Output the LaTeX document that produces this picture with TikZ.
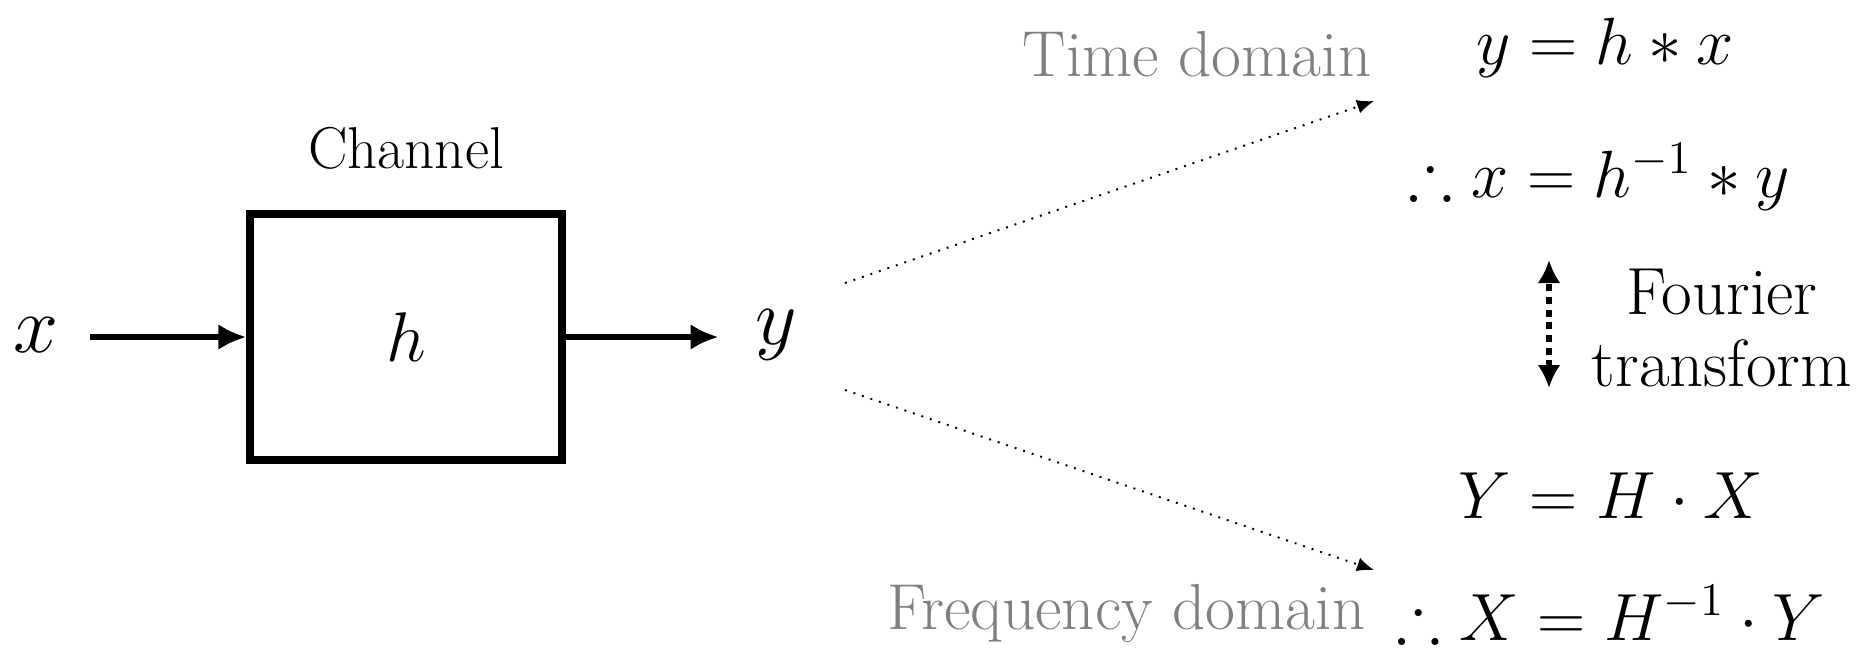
\RequirePackage{fix-cm}
\documentclass[tikz,border=0pt]{standalone}
\usepackage{amsmath,amssymb}
\usetikzlibrary{arrows.meta,positioning}
\definecolor{ink}{HTML}{000000}
\definecolor{grey}{HTML}{808080}

\begin{document}
\begin{tikzpicture}[
  x=0.1mm, y=-0.1mm, >=Latex,
  sig/.style={inner sep=0pt, text=ink, font=\fontsize{23}{27}\selectfont},
  eqn/.style={inner sep=0pt, text=ink, font=\fontsize{19}{23}\selectfont},
  dom/.style={inner sep=0pt, text=grey, anchor=east, font=\fontsize{18.5}{22}\selectfont},
  lbl/.style={inner sep=0pt, text=ink, align=center, font=\fontsize{19}{20.5}\selectfont},
  blk/.style={draw=ink, line width=2.1pt, minimum width=31.2mm, minimum height=24.6mm, font=\fontsize{20}{24}\selectfont},
  arr/.style={-{Latex[length=2.8mm,width=2.6mm]}, draw=ink, line width=1.9pt},
  dotarr/.style={-{Latex[length=1.7mm,width=1.4mm]}, draw=ink, dotted, line width=0.55pt},
  ftarr/.style={{Latex[length=2.3mm,width=2.3mm]}-{Latex[length=2.3mm,width=2.3mm]}, draw=ink, line width=1.8pt, dash pattern=on 2pt off 1.6pt}]
\useasboundingbox (0,0) rectangle (1871,651);

% channel block
\node[sig] (xin) at (36,335) {$x$};
\node[blk] (box) at (406,337) {$h$};
\node[lbl, font=\fontsize{16.8}{19}\selectfont, above=4mm of box] (chan) {Channel};
\node[sig] (yout) at (776,335) {$y$};
\draw[arr, shorten <=3.1mm] (xin.east |- box.west) -- (box.west);
\draw[arr, shorten >=3.6mm] (box.east) -- (yout.west |- box.east);

% time / frequency domain
\coordinate (tstart) at (845,283);
\coordinate (tend) at (1374,101);
\coordinate (fstart) at (845,390);
\coordinate (fend) at (1374,570);
\node[dom] (tdom) at (1372,54) {Time domain};
\node[dom] (fdom) at (1366,614) {Frequency domain};
\node[eqn] (eqt1) at (1605,48) {$y = h * x$};
\node[eqn] (eqt2) at (1599,177) {$\therefore x = h^{-1} * y$};
\node[eqn] (eqf1) at (1611,496) {$Y = H \cdot X$};
\node[eqn] (eqf2) at (1611,613) {$\therefore X = H^{-1} \cdot Y$};
\draw[dotarr] (tstart) -- (tend);
\draw[dotarr] (fstart) -- (fend);

% fourier transform
\coordinate (ftop) at (1549,260);
\coordinate (fbot) at (1549,388);
\node[lbl] (four) at (1722,328) {Fourier\\transform};
\draw[ftarr] (fbot) -- (ftop);
\end{tikzpicture}
\end{document}
